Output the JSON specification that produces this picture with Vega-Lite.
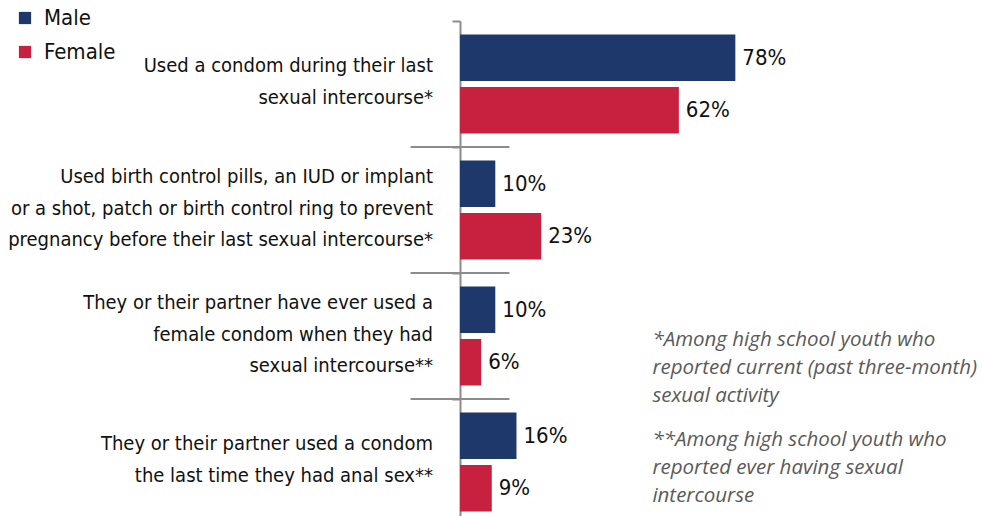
{
  "$schema": "https://vega.github.io/schema/vega-lite/v6.json",
  "width": 353,
  "height": 504,
  "autosize": {"type": "none"},
  "padding": {"left": 460, "top": 21, "right": 169, "bottom": 0},
  "background": "white",
  "config": {
    "view": {"stroke": null},
    "font": "DejaVu Sans Condensed"
  },
  "data": {
    "values": [
      {"group": "Used a condom during their last|sexual intercourse*", "sex": "Male", "value": 0.78},
      {"group": "Used a condom during their last|sexual intercourse*", "sex": "Female", "value": 0.62},
      {"group": "Used birth control pills, an IUD or implant|or a shot, patch or birth control ring to prevent|pregnancy before their last sexual intercourse*", "sex": "Male", "value": 0.10},
      {"group": "Used birth control pills, an IUD or implant|or a shot, patch or birth control ring to prevent|pregnancy before their last sexual intercourse*", "sex": "Female", "value": 0.23},
      {"group": "They or their partner have ever used a|female condom when they had|sexual intercourse**", "sex": "Male", "value": 0.10},
      {"group": "They or their partner have ever used a|female condom when they had|sexual intercourse**", "sex": "Female", "value": 0.06},
      {"group": "They or their partner used a condom|the last time they had anal sex**", "sex": "Male", "value": 0.16},
      {"group": "They or their partner used a condom|the last time they had anal sex**", "sex": "Female", "value": 0.09}
    ]
  },
  "layer": [
    {
      "mark": {"type": "bar"},
      "encoding": {
        "y": {
          "field": "group", "type": "nominal", "sort": null,
          "scale": {"paddingInner": 0, "paddingOuter": 0},
          "axis": {
            "title": null, "labels": false,
            "domain": true, "domainColor": "#8c8c8c", "domainWidth": 2,
            "ticks": true, "tickBand": "extent", "tickColor": "#8c8c8c", "tickWidth": 2, "tickSize": 8
          }
        },
        "yOffset": {
          "field": "sex", "type": "nominal", "sort": ["Male", "Female"],
          "scale": {"paddingInner": 0.114, "paddingOuter": 0.257}
        },
        "x": {"field": "value", "type": "quantitative", "scale": {"domain": [0, 1]}, "axis": null},
        "color": {
          "field": "sex", "type": "nominal", "sort": ["Male", "Female"],
          "scale": {"domain": ["Male", "Female"], "range": ["#1f386b", "#c8203f"]},
          "legend": {
            "orient": "none", "legendX": -446, "legendY": -14, "title": null,
            "symbolType": "square", "symbolSize": 150, "symbolStrokeWidth": 0,
            "labelFontSize": 22, "labelColor": "#111111", "labelOffset": 8,
            "rowPadding": 12, "padding": 0
          }
        }
      }
    },
    {
      "mark": {"type": "text", "align": "left", "baseline": "middle", "dx": 7, "fontSize": 22, "color": "#111111"},
      "encoding": {
        "y": {"field": "group", "type": "nominal", "sort": null},
        "yOffset": {"field": "sex", "type": "nominal", "sort": ["Male", "Female"]},
        "x": {"field": "value", "type": "quantitative"},
        "text": {"field": "value", "format": ".0%"}
      }
    },
    {
      "transform": [
        {"filter": "datum.sex == 'Male' && length(split(datum.group, '|')) == 2"}
      ],
      "mark": {"type": "text", "align": "right", "baseline": "middle", "dx": -27, "dy": -18, "fontSize": 20, "color": "#111111", "lineBreak": "|", "lineHeight": 31.5},
      "encoding": {
        "y": {"field": "group", "type": "nominal", "sort": null},
        "x": {"datum": 0},
        "text": {"field": "group"}
      }
    },
    {
      "transform": [
        {"filter": "datum.sex == 'Male' && length(split(datum.group, '|')) == 3"}
      ],
      "mark": {"type": "text", "align": "right", "baseline": "middle", "dx": -27, "dy": -33, "fontSize": 20, "color": "#111111", "lineBreak": "|", "lineHeight": 31.5},
      "encoding": {
        "y": {"field": "group", "type": "nominal", "sort": null},
        "x": {"datum": 0},
        "text": {"field": "group"}
      }
    },
    {
      "transform": [
        {"filter": "datum.sex == 'Male' && datum.group != 'Used a condom during their last|sexual intercourse*'"}
      ],
      "mark": {"type": "rule", "color": "#8c8c8c", "strokeWidth": 2},
      "encoding": {
        "y": {"field": "group", "type": "nominal", "sort": null, "bandPosition": 0},
        "x": {"datum": -0.14},
        "x2": {"datum": 0.14}
      }
    },
    {
      "data": {"values": [{"note": "*Among high school youth who\nreported current (past three-month)\nsexual activity"}]},
      "mark": {"type": "text", "align": "left", "baseline": "middle", "font": "Open Sans", "fontStyle": "italic", "fontSize": 20.5, "color": "#5a5a5a", "lineBreak": "\n", "lineHeight": 28, "dy": 4},
      "encoding": {
        "x": {"datum": 0.545},
        "y": {"datum": "They or their partner have ever used a|female condom when they had|sexual intercourse**", "type": "nominal"},
        "text": {"field": "note"}
      }
    },
    {
      "data": {"values": [{"note": "**Among high school youth who\nreported ever having sexual\nintercourse"}]},
      "mark": {"type": "text", "align": "left", "baseline": "middle", "font": "Open Sans", "fontStyle": "italic", "fontSize": 20.5, "color": "#5a5a5a", "lineBreak": "\n", "lineHeight": 28, "dy": -22},
      "encoding": {
        "x": {"datum": 0.545},
        "y": {"datum": "They or their partner used a condom|the last time they had anal sex**", "type": "nominal"},
        "text": {"field": "note"}
      }
    }
  ]
}
